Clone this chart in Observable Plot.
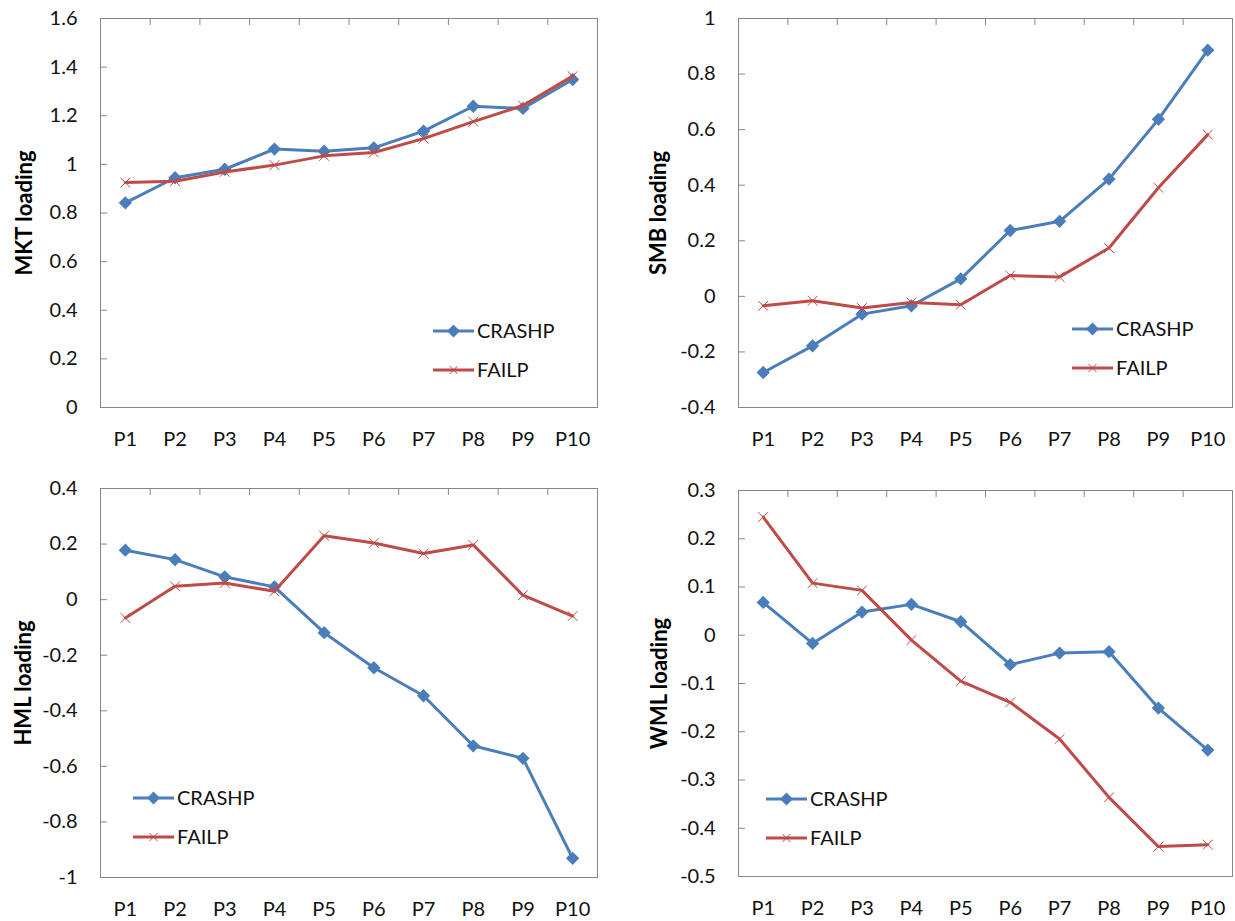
<!DOCTYPE html>
<html>
<head>
<meta charset="utf-8">
<script src="https://cdn.jsdelivr.net/npm/d3@7"></script>
<script src="https://cdn.jsdelivr.net/npm/@observablehq/plot@0.6"></script>
<style>
  body { margin: 0; background: #fff; }
  #wrap { position: relative; width: 1235px; height: 921px; font-family: Lato, "Open Sans", sans-serif; }
  .panel { position: absolute; }
  .panel svg { overflow: visible; }
  .legend { position: absolute; }
</style>
</head>
<body>
<div id="wrap"></div>
<script>
// ---- data ----
const categories = ["P1", "P2", "P3", "P4", "P5", "P6", "P7", "P8", "P9", "P10"];
const seriesNames = ["CRASHP", "FAILP"];
const seriesColors = ["#4A7EBB", "#BE4B48"];

const mktCrashp = [0.842, 0.945, 0.980, 1.063, 1.054, 1.068, 1.137, 1.239, 1.230, 1.349];
const mktFailp  = [0.925, 0.931, 0.969, 0.997, 1.035, 1.049, 1.106, 1.176, 1.242, 1.363];
const smbCrashp = [-0.274, -0.178, -0.064, -0.034, 0.063, 0.237, 0.270, 0.422, 0.637, 0.886];
const smbFailp  = [-0.034, -0.016, -0.042, -0.022, -0.030, 0.075, 0.070, 0.174, 0.391, 0.582];
const hmlCrashp = [0.178, 0.144, 0.082, 0.046, -0.119, -0.245, -0.346, -0.526, -0.571, -0.931];
const hmlFailp  = [-0.066, 0.048, 0.060, 0.030, 0.230, 0.204, 0.166, 0.197, 0.016, -0.059];
const wmlCrashp = [0.068, -0.017, 0.048, 0.064, 0.028, -0.061, -0.037, -0.034, -0.151, -0.238];
const wmlFailp  = [0.245, 0.108, 0.093, -0.010, -0.095, -0.139, -0.215, -0.336, -0.438, -0.434];

const mktTicks = [0, 0.2, 0.4, 0.6, 0.8, 1, 1.2, 1.4, 1.6];
const smbTicks = [-0.4, -0.2, 0, 0.2, 0.4, 0.6, 0.8, 1];
const hmlTicks = [-1, -0.8, -0.6, -0.4, -0.2, 0, 0.2, 0.4];
const wmlTicks = [-0.5, -0.4, -0.3, -0.2, -0.1, 0, 0.1, 0.2, 0.3];

const yLabels = ["MKT loading", "SMB loading", "HML loading", "WML loading"];

// ---- layout ----
const panels = [
  {label: yLabels[0], values: [mktCrashp, mktFailp], ticks: mktTicks, left: 0,   top: 0,   width: 617, height: 460, mL: 100, mR: 20, mT: 18, mB: 53, titleDx: -76, legend: [433, 331]},
  {label: yLabels[1], values: [smbCrashp, smbFailp], ticks: smbTicks, left: 617, top: 0,   width: 618, height: 460, mL: 121, mR: 3,  mT: 18, mB: 53, titleDx: -80, legend: [1072, 329]},
  {label: yLabels[2], values: [hmlCrashp, hmlFailp], ticks: hmlTicks, left: 0,   top: 460, width: 617, height: 461, mL: 100, mR: 20, mT: 28, mB: 44, titleDx: -77, legend: [133, 798]},
  {label: yLabels[3], values: [wmlCrashp, wmlFailp], ticks: wmlTicks, left: 617, top: 460, width: 618, height: 461, mL: 121, mR: 3,  mT: 30, mB: 45, titleDx: -79, legend: [766, 799]}
];

const fmt = d => String(+d.toFixed(2));
const frameColor = "#868686";
const boundaries = d3.range(1.5, categories.length, 1);
const xIdx = categories.map((c, i) => i + 1);

const wrap = document.getElementById("wrap");

panels.forEach(p => {
  const rows = [];
  seriesNames.forEach((s, si) => p.values[si].forEach((v, i) => rows.push({series: s, idx: i + 1, value: v})));
  const crash = rows.filter(r => r.series === seriesNames[0]);
  const fail = rows.filter(r => r.series === seriesNames[1]);
  const yDomain = [d3.min(p.ticks), d3.max(p.ticks)];
  const plotW = p.width - p.mL - p.mR;
  const plotH = p.height - p.mT - p.mB;

  const chart = Plot.plot({
    width: p.width,
    height: p.height,
    marginLeft: p.mL,
    marginRight: p.mR,
    marginTop: p.mT,
    marginBottom: p.mB,
    style: {fontFamily: "Lato, 'Open Sans', sans-serif", fontSize: "20px", color: "#111", background: "transparent", overflow: "visible"},
    x: {domain: [0.5, categories.length + 0.5]},
    y: {domain: yDomain},
    marks: [
      Plot.frame({stroke: frameColor, strokeWidth: 1}),
      // inward tick marks along the top edge at category boundaries
      Plot.ruleX(boundaries, {x: d => d, stroke: frameColor, insetBottom: plotH - 7}),
      // inward tick marks on left axis
      Plot.ruleY(p.ticks, {y: d => d, stroke: frameColor, insetRight: plotW - 7}),
      Plot.axisY({ticks: p.ticks, tickSize: 0, tickPadding: 23, tickFormat: fmt, label: null, fill: "#111"}),
      Plot.axisX({ticks: xIdx, tickSize: 0, tickPadding: 24, tickFormat: i => categories[i - 1], label: null, fill: "#111"}),
      Plot.text([p.label], {frameAnchor: "left", textAnchor: "middle", dx: p.titleDx, rotate: -90, fontWeight: "bold", fontSize: 22, fill: "#000"}),
      Plot.line(crash, {x: "idx", y: "value", stroke: seriesColors[0], strokeWidth: 3, strokeLinejoin: "round"}),
      Plot.dot(crash, {x: "idx", y: "value", symbol: "diamond2", r: 6, fill: seriesColors[0], stroke: null}),
      Plot.line(fail, {x: "idx", y: "value", stroke: seriesColors[1], strokeWidth: 3, strokeLinejoin: "round"}),
      Plot.dot(fail, {x: "idx", y: "value", symbol: "times", r: 4.5, stroke: seriesColors[1], strokeWidth: 1, fill: "none"})
    ]
  });
  const holder = document.createElement("div");
  holder.className = "panel";
  holder.style.left = p.left + "px";
  holder.style.top = p.top + "px";
  holder.appendChild(chart);
  wrap.appendChild(holder);

  // legend
  const [lx, ly] = p.legend;
  seriesNames.forEach((s, si) => {
    const item = document.createElement("div");
    item.className = "legend";
    item.style.left = lx + "px";
    item.style.top = (ly + si * 39 - 12) + "px";
    const svgNS = "http://www.w3.org/2000/svg";
    const svg = document.createElementNS(svgNS, "svg");
    svg.setAttribute("width", "130");
    svg.setAttribute("height", "24");
    svg.style.overflow = "visible";
    const line = document.createElementNS(svgNS, "line");
    line.setAttribute("x1", 0); line.setAttribute("x2", 41);
    line.setAttribute("y1", 12); line.setAttribute("y2", 12);
    line.setAttribute("stroke", seriesColors[si]); line.setAttribute("stroke-width", 3);
    svg.appendChild(line);
    const mk = document.createElementNS(svgNS, "path");
    if (si === 0) {
      mk.setAttribute("d", "M20.5,5.5L27,12L20.5,18.5L14,12Z");
      mk.setAttribute("fill", seriesColors[si]);
    } else {
      mk.setAttribute("d", "M16.5,8L24.5,16M24.5,8L16.5,16");
      mk.setAttribute("stroke", seriesColors[si]);
      mk.setAttribute("stroke-width", 1);
      mk.setAttribute("fill", "none");
    }
    svg.appendChild(mk);
    const t = document.createElementNS(svgNS, "text");
    t.setAttribute("x", 44); t.setAttribute("y", 12);
    t.setAttribute("dy", "0.35em");
    t.setAttribute("font-family", "Lato, 'Open Sans', sans-serif");
    t.setAttribute("font-size", "20");
    t.setAttribute("fill", "#111");
    t.textContent = s;
    svg.appendChild(t);
    item.appendChild(svg);
    wrap.appendChild(item);
  });
});
</script>
</body>
</html>
